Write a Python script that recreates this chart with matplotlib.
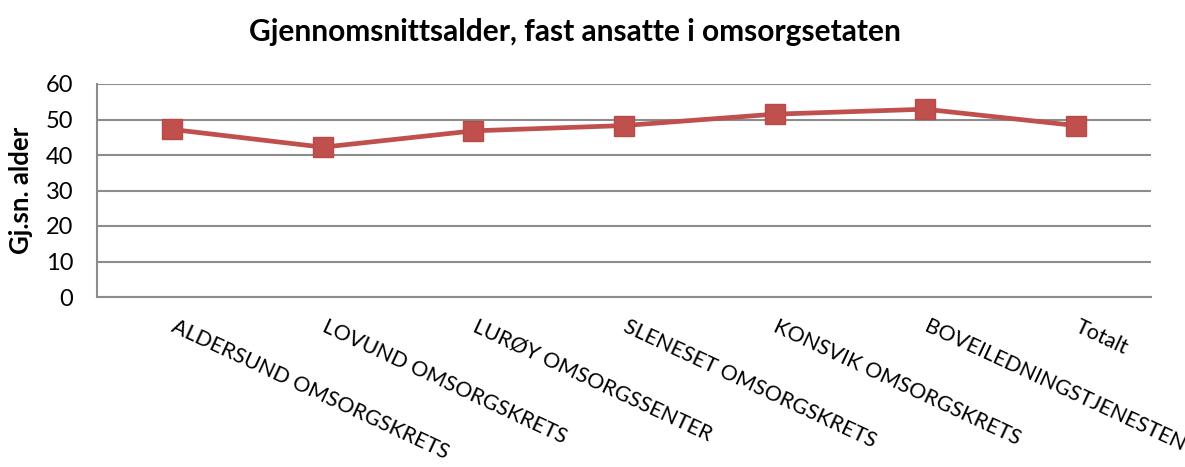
import matplotlib.pyplot as plt

# Data
categories = ["ALDERSUND OMSORGSKRETS", "LOVUND OMSORGSKRETS", "LURØY OMSORGSSENTER",
              "SLENESET OMSORGSKRETS", "KONSVIK OMSORGSKRETS", "BOVEILEDNINGSTJENESTEN",
              "Totalt"]
avg_age = [47.2, 42.2, 46.8, 48.3, 51.5, 52.9, 48.3]
y_ticks = [0, 10, 20, 30, 40, 50, 60]

plt.rcParams['font.family'] = ['Lato', 'DejaVu Sans']

fig = plt.figure(figsize=(11.85, 4.67), dpi=100)
ax = fig.add_axes([97 / 1185, 1 - 297 / 467, (1151 - 97) / 1185, (297 - 84) / 467])

x = list(range(len(categories)))
ax.plot(x, avg_age, color='#C0504D', linewidth=3.4, marker='s', markersize=14.5,
        markerfacecolor='#C0504D', markeredgecolor='#B84A47', zorder=3)

ax.set_xlim(-0.5, len(categories) - 0.5)
ax.set_ylim(0, 60)
ax.set_yticks(y_ticks)
ax.set_yticklabels([str(t) for t in y_ticks], fontsize=17)
ax.yaxis.grid(True, color='#8C8C8C', linewidth=1.5)
ax.set_axisbelow(True)
ax.tick_params(axis='y', length=0, pad=17)
ax.tick_params(axis='x', length=0)
ax.set_xticks([])

for side in ['top', 'right']:
    ax.spines[side].set_visible(False)
for side in ['left', 'bottom']:
    ax.spines[side].set_color('#8C8C8C')
    ax.spines[side].set_linewidth(1.5)

# rotated category labels
for i, name in enumerate(categories):
    ax.text(i + 0.03, -5.5, name, rotation=-25, rotation_mode='anchor',
            ha='left', va='top', fontsize=15.4, clip_on=False)

ax.set_ylabel("Gj.sn. alder", fontsize=18.5, fontweight='bold')
ax.yaxis.set_label_coords(-0.061, 0.5)
fig.text(575 / 1185, 1 - 32 / 467, "Gjennomsnittsalder, fast ansatte i omsorgsetaten",
         ha='center', va='center', fontsize=21.5, fontweight='bold')

fig.savefig("out.png", dpi=100)
